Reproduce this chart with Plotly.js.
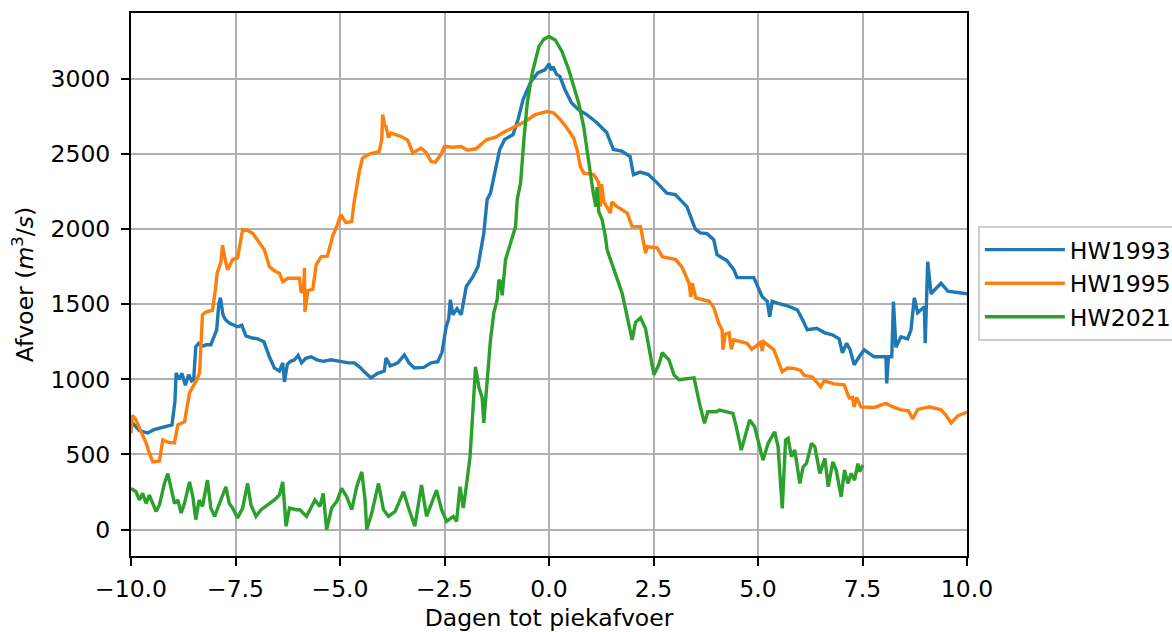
<!DOCTYPE html>
<html>
<head>
<meta charset="utf-8">
<script src="https://cdn.plot.ly/plotly-3.0.1.min.js"></script>
<style>
html,body{margin:0;padding:0;background:#fff;}
#chart{width:1172px;height:632px;}
</style>
</head>
<body>
<div id="chart"></div>
<script>
const seriesNames = ["HW1993", "HW1995", "HW2021"];
const seriesColors = ["#1f77b4", "#ff7f0e", "#2ca02c"];

const hw1993_x = [-10.0,-9.9,-9.8,-9.7,-9.6,-9.45,-9.3,-9.15,-9.02,-8.95,-8.92,-8.85,-8.78,-8.7,-8.62,-8.55,-8.5,-8.45,-8.38,-8.3,-8.2,-8.09,-8.0,-7.95,-7.9,-7.86,-7.8,-7.75,-7.65,-7.55,-7.45,-7.35,-7.25,-7.1,-6.97,-6.82,-6.69,-6.57,-6.45,-6.37,-6.33,-6.26,-6.18,-6.09,-6.0,-5.92,-5.82,-5.69,-5.55,-5.4,-5.22,-5.0,-4.8,-4.66,-4.52,-4.42,-4.26,-4.1,-3.94,-3.9,-3.8,-3.7,-3.62,-3.46,-3.35,-3.22,-3.0,-2.82,-2.66,-2.56,-2.46,-2.4,-2.38,-2.36,-2.3,-2.2,-2.1,-1.98,-1.82,-1.7,-1.56,-1.48,-1.4,-1.26,-1.18,-1.06,-0.86,-0.74,-0.62,-0.43,-0.27,-0.1,0.0,0.05,0.1,0.18,0.26,0.38,0.54,0.7,0.9,1.14,1.38,1.54,1.74,1.94,2.02,2.18,2.38,2.58,2.82,3.02,3.3,3.5,3.62,3.78,3.94,4.02,4.26,4.42,4.5,4.9,5.1,5.22,5.28,5.34,5.46,5.7,5.94,6.06,6.18,6.4,6.6,6.78,6.94,7.02,7.12,7.2,7.3,7.42,7.54,7.78,8.06,8.08,8.12,8.2,8.24,8.3,8.42,8.58,8.66,8.74,8.82,8.98,9.0,9.06,9.14,9.24,9.38,9.54,9.7,9.86,10.0];
const hw1993_y = [720,690,660,650,643,665,675,685,697,850,1043,1000,1040,960,1030,990,1000,1217,1240,1220,1230,1230,1300,1330,1500,1543,1430,1400,1375,1360,1350,1360,1290,1275,1270,1250,1150,1076,1055,1110,983,1100,1120,1130,1160,1110,1140,1150,1130,1120,1130,1120,1110,1110,1080,1050,1010,1040,1055,1143,1090,1100,1110,1163,1110,1076,1080,1110,1117,1180,1350,1400,1510,1530,1430,1470,1430,1617,1683,1750,1973,2197,2240,2417,2530,2597,2630,2730,2863,2983,3040,3060,3100,3060,3080,3030,3017,2930,2840,2797,2763,2710,2643,2530,2520,2483,2363,2380,2363,2310,2240,2230,2150,2000,1975,1970,1930,1830,1790,1730,1677,1677,1550,1520,1417,1520,1507,1490,1463,1400,1330,1340,1310,1297,1270,1177,1240,1200,1097,1150,1197,1150,1150,973,1150,1150,1517,1213,1283,1270,1330,1543,1443,1483,1240,1783,1570,1600,1640,1587,1580,1577,1570];

const hw1995_x = [-10.0,-9.97,-9.9,-9.8,-9.7,-9.64,-9.55,-9.48,-9.32,-9.24,-9.1,-8.96,-8.88,-8.72,-8.6,-8.52,-8.42,-8.36,-8.29,-8.2,-8.05,-7.98,-7.94,-7.85,-7.81,-7.75,-7.69,-7.57,-7.45,-7.33,-7.2,-7.09,-6.95,-6.81,-6.69,-6.55,-6.45,-6.37,-6.25,-5.97,-5.93,-5.87,-5.85,-5.84,-5.77,-5.65,-5.57,-5.45,-5.3,-5.18,-5.06,-4.98,-4.86,-4.72,-4.66,-4.54,-4.46,-4.3,-4.06,-4.0,-3.98,-3.93,-3.9,-3.84,-3.78,-3.54,-3.38,-3.26,-3.06,-2.94,-2.82,-2.72,-2.58,-2.5,-2.3,-2.1,-1.95,-1.75,-1.49,-1.29,-1.05,-0.81,-0.57,-0.33,-0.05,0.11,0.27,0.43,0.59,0.67,0.75,0.83,1.07,1.19,1.23,1.26,1.31,1.47,1.5,1.63,1.87,1.99,2.19,2.31,2.35,2.59,2.71,3.03,3.19,3.35,3.39,3.43,3.51,3.83,3.94,4.06,4.14,4.16,4.22,4.31,4.36,4.42,4.74,4.85,5.06,5.1,5.14,5.38,5.58,5.7,5.86,6.02,6.1,6.3,6.42,6.5,6.58,6.82,7.06,7.18,7.26,7.3,7.36,7.46,7.78,8.06,8.2,8.42,8.6,8.7,8.82,9.1,9.38,9.5,9.62,9.78,10.0];
const hw1995_y = [640,760,740,680,620,577,500,450,457,597,580,577,697,717,910,950,1000,1043,1430,1450,1460,1600,1707,1780,1893,1800,1730,1797,1810,1997,1990,1973,1920,1863,1750,1720,1707,1650,1673,1673,1577,1600,1743,1450,1590,1600,1763,1817,1820,1950,2030,2097,2043,2050,2183,2383,2473,2500,2517,2600,2763,2690,2683,2610,2640,2617,2593,2507,2540,2510,2450,2445,2500,2550,2545,2550,2525,2535,2597,2610,2650,2683,2717,2763,2783,2775,2730,2673,2607,2530,2417,2373,2363,2310,2150,2300,2183,2107,2180,2150,2107,2017,2017,1840,1883,1875,1817,1797,1743,1640,1550,1640,1543,1520,1480,1373,1330,1197,1300,1310,1200,1263,1240,1200,1245,1190,1250,1197,1050,1075,1073,1060,1027,1015,973,950,990,970,963,877,880,817,880,817,813,840,820,797,790,737,800,817,797,760,710,757,783];

const hw2021_x = [-10.0,-9.88,-9.8,-9.72,-9.64,-9.56,-9.48,-9.4,-9.32,-9.2,-9.12,-9.04,-8.96,-8.88,-8.8,-8.72,-8.6,-8.52,-8.45,-8.37,-8.29,-8.17,-8.09,-8.0,-7.89,-7.73,-7.65,-7.57,-7.45,-7.33,-7.21,-7.13,-7.01,-6.89,-6.73,-6.57,-6.45,-6.37,-6.29,-6.21,-6.05,-5.96,-5.8,-5.6,-5.48,-5.4,-5.32,-5.2,-5.08,-4.96,-4.84,-4.72,-4.6,-4.48,-4.4,-4.36,-4.24,-4.08,-3.96,-3.84,-3.68,-3.48,-3.36,-3.21,-3.05,-2.93,-2.81,-2.69,-2.57,-2.45,-2.29,-2.21,-2.13,-2.05,-1.97,-1.89,-1.8,-1.76,-1.68,-1.6,-1.56,-1.48,-1.4,-1.32,-1.24,-1.2,-1.16,-1.12,-1.04,-0.92,-0.8,-0.76,-0.68,-0.6,-0.52,-0.4,-0.24,-0.12,0.0,0.15,0.31,0.47,0.59,0.71,0.83,0.91,0.99,1.06,1.12,1.15,1.19,1.27,1.35,1.39,1.47,1.59,1.75,1.87,1.99,2.07,2.19,2.31,2.43,2.51,2.63,2.71,2.87,2.99,3.11,3.35,3.47,3.6,3.72,3.8,4.0,4.08,4.4,4.48,4.6,4.8,4.92,5.12,5.24,5.4,5.48,5.58,5.66,5.72,5.8,5.88,6.0,6.08,6.16,6.28,6.36,6.48,6.6,6.68,6.79,6.87,6.99,7.07,7.15,7.23,7.31,7.39,7.43,7.51];
const hw2021_y = [274,252,197,241,175,230,175,121,164,307,373,285,175,197,110,175,318,219,66,197,154,329,143,88,164,285,175,143,77,143,307,164,88,132,164,197,230,318,22,143,132,132,88,197,154,241,0,143,186,274,219,132,285,384,197,0,110,307,132,88,121,252,143,22,296,88,175,263,132,55,88,55,285,143,307,482,883,1083,950,880,710,997,1263,1443,1530,1663,1650,1560,1797,1907,2017,2197,2307,2597,2840,3040,3217,3265,3283,3260,3183,3063,2950,2840,2683,2507,2373,2240,2150,2280,2117,2063,1950,1863,1797,1707,1573,1417,1263,1380,1410,1337,1150,1030,1100,1177,1130,1030,997,1005,1010,840,707,784,784,795,773,684,529,729,684,462,573,651,551,141,596,607,485,529,307,418,440,573,551,374,474,285,451,396,218,396,307,374,329,440,385,429];

const xTickVals = [-10, -7.5, -5, -2.5, 0, 2.5, 5, 7.5, 10];
const yTickVals = [0, 500, 1000, 1500, 2000, 2500, 3000];

const xs = [hw1993_x, hw1995_x, hw2021_x];
const ys = [hw1993_y, hw1995_y, hw2021_y];

const traces = seriesNames.map((n, i) => ({
  type: "scatter",
  mode: "lines",
  name: n,
  legendgroup: n,
  x: xs[i],
  y: ys[i],
  line: {color: seriesColors[i], width: 3.4}
}));

const FONT = "DejaVu Sans, sans-serif";

const layout = {
  width: 1172,
  height: 632,
  margin: {l: 131, r: 205, t: 13, b: 76, pad: 0, autoexpand: false},
  paper_bgcolor: "#ffffff",
  plot_bgcolor: "#ffffff",
  font: {family: FONT, size: 23.5, color: "#000"},
  showlegend: true,
  legend: {
    x: 1.013, y: 0.608, xanchor: "left", yanchor: "top",
    bgcolor: "rgba(255,255,255,0.8)",
    bordercolor: "#cccccc", borderwidth: 2,
    font: {family: FONT, size: 23.5, color: "#000"},
    tracegroupgap: 0,
    itemwidth: 80
  },
  xaxis: {
    range: [-10, 10],
    tickmode: "array",
    tickvals: xTickVals,
    tickformat: ".1f",
    showgrid: true, gridcolor: "#b0b0b0", gridwidth: 2,
    zeroline: false,
    showline: true, linecolor: "#000", linewidth: 2, mirror: true,
    ticks: "outside", ticklen: 8, tickwidth: 2, tickcolor: "#000",
    ticklabelstandoff: 3,
    tickfont: {family: FONT, size: 23.5, color: "#000"},
    title: {text: "Dagen tot piekafvoer", font: {family: FONT, size: 23.5, color: "#000"}, standoff: 8}
  },
  yaxis: {
    range: [-176, 3439],
    tickmode: "array",
    tickvals: yTickVals,
    showgrid: true, gridcolor: "#b0b0b0", gridwidth: 2,
    zeroline: false,
    showline: true, linecolor: "#000", linewidth: 2, mirror: true,
    ticks: "outside", ticklen: 8, tickwidth: 2, tickcolor: "#000",
    ticklabelstandoff: 6,
    tickfont: {family: FONT, size: 23.5, color: "#000"},
    title: {text: "Afvoer (<i>m</i><sup>3</sup>/<i>s</i>)", font: {family: FONT, size: 23.5, color: "#000"}, standoff: 10}
  }
};

Plotly.newPlot("chart", traces, layout, {displayModeBar: false, staticPlot: true});
</script>
</body>
</html>
